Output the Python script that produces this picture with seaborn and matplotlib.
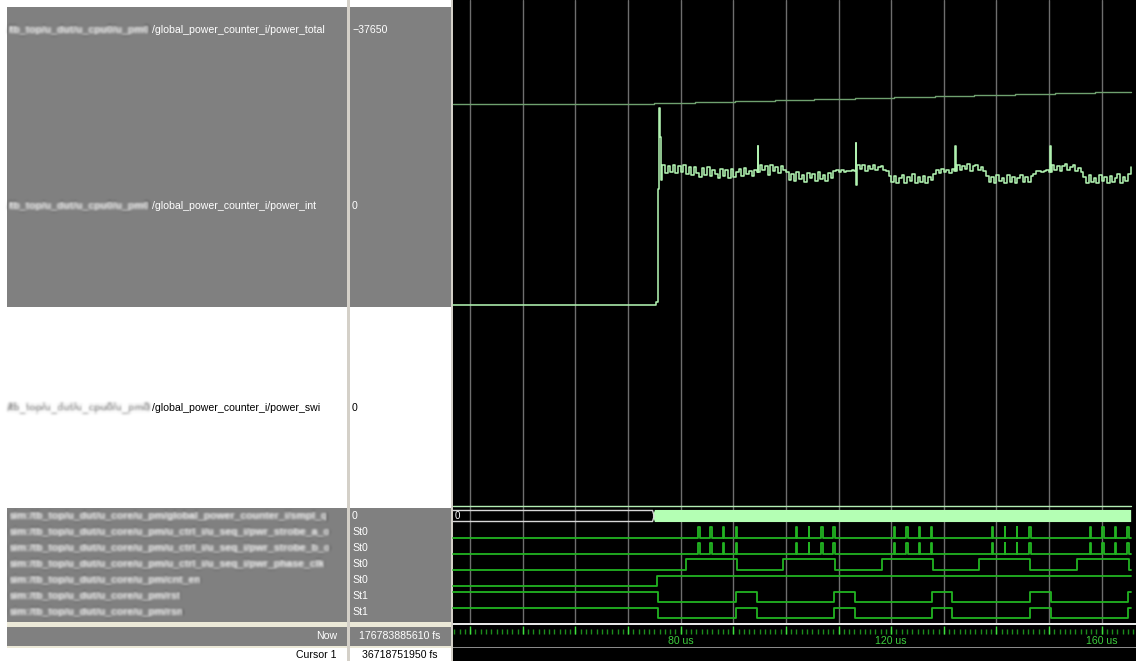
import numpy as np
import pandas as pd
import matplotlib
matplotlib.use("Agg")
import matplotlib.pyplot as plt
from matplotlib.patches import Rectangle
import seaborn as sns

sns.set_style("white")
plt.rcParams["font.family"] = ["Liberation Sans", "DejaVu Sans"]

# ---------------------------------------------------------------- data (time in us)
cursor_fs = "36718751950 fs"
now_fs = "176783885610 fs"
t_view = (36.73, 166.52)          # visible time window of the wave pane
t_end = 165.6                      # last simulated sample drawn

tick_labels = ["80 us", "120 us", "160 us"]
tick_label_times = [80, 120, 160]

# power_total: accumulated power, stepwise
total_t = [36.73, 74.98, 82.72, 90.32, 97.92, 105.33, 113.12, 120.53, 128.32,
           135.73, 143.52, 151.12, 158.72]
total_v = [-37650, -36640, -35610, -34590, -33560, -32540, -31510, -30490,
           -29460, -28440, -27410, -26390, -25360]

# power_int: start-up transient, then sampled every 0.5 us from 76.5 us
int_start_t = [36.73, 75.35, 75.6, 75.8, 76.0, 76.25]
int_start_v = [0, 30, 1155, 1965, 1675, 1245]
int_grid_t0 = 76.5
int_grid_dt = 0.5
int_grid_v = [
    1395, 1318, 1390, 1322, 1400, 1312, 1385, 1330, 1398, 1310, 1372,
    1292, 1380, 1320, 1280, 1362, 1298, 1378, 1285, 1350, 1302,
    1265, 1358, 1282, 1345, 1268, 1352, 1275, 1330,
    1358, 1285, 1370, 1302, 1340, 1290, 1345, 1330,
    1398, 1345, 1385, 1300, 1392, 1335, 1375, 1312, 1390, 1350, 1325,
    1250, 1305, 1232, 1322, 1258, 1300, 1230, 1318, 1262, 1308, 1240, 1322, 1255, 1298, 1236, 1312, 1265, 1335,
    1342, 1330, 1350, 1328, 1340, 1332, 1345, 1335,
    1400, 1352, 1392, 1340, 1385, 1360, 1398, 1345, 1380, 1390, 1350, 1338,
    1290, 1225, 1282, 1212, 1270, 1298, 1220, 1278, 1238, 1302, 1215, 1272, 1230, 1290, 1218, 1276, 1245, 1305,
    1350, 1315, 1358, 1325, 1345, 1312, 1352, 1335,
    1398, 1345, 1388, 1355, 1402, 1340, 1382, 1392, 1348, 1378, 1338,
    1285, 1222, 1278, 1215, 1298, 1232, 1270, 1218, 1292, 1228, 1280, 1212, 1265, 1300, 1222, 1272, 1230, 1288, 1305,
    1332, 1340, 1325, 1338, 1342, 1330,
    1398, 1350, 1390, 1338, 1382, 1402, 1345, 1378, 1395, 1340, 1370, 1328,
    1275, 1220, 1292, 1228, 1270, 1215, 1298, 1235, 1276, 1212, 1288, 1226, 1262, 1302, 1218, 1280, 1238, 1305,
    1380,
]
# short glitches on power_int (time, value, duration)
glitch_t = [94.6, 113.25, 113.37, 132.1, 150.1]
glitch_v = [1585, 1615, 1195, 1585, 1585]
glitch_w = [0.15, 0.12, 0.12, 0.15, 0.35]

swi_v = 0

# bus: constant 0 until it starts toggling
bus_change_t = 74.95

# pulse bursts on the two strobe lines
pulse_t = [83.34, 85.62, 88.04, 90.45,
           101.97, 104.32, 106.66, 108.94,
           120.59, 122.87, 125.23, 127.62,
           139.10, 141.57, 143.85, 146.19,
           157.78, 160.11, 162.47, 164.81]
pulse_w = [0.3, 0.3, 0.12, 0.3,
           0.12, 0.12, 0.3, 0.3,
           0.12, 0.3, 0.3, 0.12,
           0.3, 0.12, 0.12, 0.3,
           0.12, 0.3, 0.3, 0.3]

clk_edges = [81.0, 90.64, 99.5, 109.26, 118.2, 127.89, 136.74, 146.38, 155.31, 165.13]
en_rise_t = 75.44
rst_edges = [75.74, 90.45, 94.56, 109.07, 113.12, 127.75, 131.61, 146.38, 150.37, 165.0]

value_labels = ["0", "St0", "St0", "St0", "St0", "St1", "St1"]

# ---------------------------------------------------------------- figure
W, H = 1136, 661
fig = plt.figure(figsize=(W / 100, H / 100), dpi=100)
fig.patch.set_facecolor("white")

bg = fig.add_axes([0, 0, 1, 1])
bg.set_xlim(0, W)
bg.set_ylim(H, 0)
bg.axis("off")

GRAY = "#808080"
DIV = "#d4d0c8"
PALE = "#ece9d8"


def rect(x0, y0, x1, y1, color, z=0):
    bg.add_patch(Rectangle((x0, y0), x1 - x0, y1 - y0, facecolor=color,
                           edgecolor="none", zorder=z))


# panes
rect(7, 7, 346.5, 307, GRAY)
rect(350, 7, 450.5, 307, GRAY)
rect(7, 508, 346.5, 622, GRAY)
rect(350, 508, 450.5, 622, GRAY)
rect(7, 622, 450.5, 626.5, PALE)
rect(7, 626.5, 346.5, 645.5, GRAY)
rect(350, 626.5, 450.5, 645.5, GRAY)
rect(7, 645.5, 450.5, 647.5, PALE)
rect(346.5, 0, 349.5, H, DIV, 2)
rect(450.5, 0, 453, H, DIV, 2)
rect(453, 0, W, H, "black", 1)
rect(453, 622.5, W, 625, "#e6e6e6", 3)
rect(453, 646.5, W, 647.5, "#8a8a8a", 3)


def soft_focus(sigma):
    """agg filter: gaussian blur of the rendered artist"""
    def _f(img, dpi):
        pad = int(3 * sigma) + 2
        a = np.pad(img, ((pad, pad), (pad, pad), (0, 0)))
        x = np.arange(-pad, pad + 1)
        k = np.exp(-0.5 * (x / sigma) ** 2)
        k /= k.sum()
        a = np.apply_along_axis(lambda m: np.convolve(m, k, mode="same"), 0, a)
        a = np.apply_along_axis(lambda m: np.convolve(m, k, mode="same"), 1, a)
        return a, -pad, -pad
    return _f


FS = 7.6


def label(x, y, s, color="white", ha="left", blur=None, **kw):
    t = bg.text(x, y, s, color=color, ha=ha, va="center", fontsize=FS, zorder=5, **kw)
    if blur:
        t.set_agg_filter(soft_focus(blur))
    return t


# signal names (hierarchy prefix shown softened)
prefix = "/tb_top/u_dut/u_cpu0/u_pm0"
label(150, 30, prefix, ha="right", blur=1.4, color="white", fontweight="bold")
label(152, 30, "/global_power_counter_i/power_total")
label(150, 206, prefix, ha="right", blur=1.4, color="white", fontweight="bold")
label(152, 206, "/global_power_counter_i/power_int")
label(150, 408, prefix, ha="right", blur=1.4, color="#707070", fontweight="bold")
label(152, 408, "/global_power_counter_i/power_swi", color="black")

dig_names = [
    "sim:/tb_top/u_dut/u_core/u_pm/global_power_counter_i/smpl_q",
    "sim:/tb_top/u_dut/u_core/u_pm/u_ctrl_i/u_seq_i/pwr_strobe_a_o",
    "sim:/tb_top/u_dut/u_core/u_pm/u_ctrl_i/u_seq_i/pwr_strobe_b_o",
    "sim:/tb_top/u_dut/u_core/u_pm/u_ctrl_i/u_seq_i/pwr_phase_clk",
    "sim:/tb_top/u_dut/u_core/u_pm/cnt_en",
    "sim:/tb_top/u_dut/u_core/u_pm/rst",
    "sim:/tb_top/u_dut/u_core/u_pm/rsn",
]
dig_y = [516, 532, 548, 564, 580, 596, 612]
for name, y, v in zip(dig_names, dig_y, value_labels):
    label(9, y, name, blur=1.4, color="white", fontweight="bold")
    label(352, y, v)

label(352, 30, "\u221237650")
label(352, 206, "0")
label(352, 408, "0", color="black")
label(337, 636, "Now", ha="right")
label(337, 655, "Cursor 1", ha="right", color="black")
label(400, 636, now_fs, ha="center")
label(400, 655, cursor_fs, ha="center", color="black")


# ---------------------------------------------------------------- wave pane
def row_axes(y_top, y_bot, ylim):
    ax = fig.add_axes([453 / W, 1 - y_bot / H, (W - 453) / W, (y_bot - y_top) / H])
    ax.set_xlim(*t_view)
    ax.set_ylim(*ylim)
    ax.set_facecolor("none")
    ax.axis("off")
    return ax


def wave(ax, t, v, color, lw=1.0, z=3):
    df = pd.DataFrame({"t": t, "v": v})
    sns.lineplot(data=df, x="t", y="v", ax=ax, color=color, lw=lw, estimator=None,
                 sort=False, drawstyle="steps-post", legend=False, zorder=z)
    for ln in ax.lines:
        ln.set_clip_on(False)


# grid
grid_ax = row_axes(0, 622.5, (0, 1))
for g in range(40, 170, 10):
    grid_ax.axvline(g, color="#6e6e6e", lw=1.0, zorder=1)

# analog signals
ax_total = row_axes(0, 105, (-38650, 66350))
wave(ax_total, total_t + [t_end], total_v + [total_v[-1]], "#6fa06f")

grid_t = int_grid_t0 + int_grid_dt * np.arange(len(int_grid_v))
base_t = np.concatenate([int_start_t, grid_t])
base_v = np.concatenate([int_start_v, int_grid_v])
extra_t, extra_v = [], []
for gt, gv, gw in zip(glitch_t, glitch_v, glitch_w):
    idx = np.searchsorted(base_t, gt + gw, side="right") - 1
    extra_t += [gt, gt + gw]
    extra_v += [gv, base_v[idx]]
pi = pd.DataFrame({"t": np.concatenate([base_t, extra_t, [t_end]]),
                   "v": np.concatenate([base_v, extra_v, [base_v[-1]]])})
pi = pi.sort_values("t", kind="stable")
ax_int = row_axes(105, 306, (-15, 1995))
wave(ax_int, pi["t"].to_numpy(), pi["v"].to_numpy(), "#b0f2b0", lw=1.15)

ax_swi = row_axes(306, 506, (0, 2000))
wave(ax_swi, [t_view[0], t_end], [swi_v, swi_v], "#b4eeb4")

# bus
ax_bus = row_axes(510.5, 521.5, (0, 1))
ax_bus.plot([t_view[0], bus_change_t - 0.3, bus_change_t], [1, 1, 0.5], color="#d8d8d8", lw=1, clip_on=False)
ax_bus.plot([t_view[0], bus_change_t - 0.3, bus_change_t], [0, 0, 0.5], color="#d8d8d8", lw=1, clip_on=False)
ax_bus.fill([bus_change_t - 0.25, bus_change_t + 0.15, t_end, t_end, bus_change_t + 0.15],
            [0.5, 1.05, 1.05, -0.05, -0.05], color="#b4ffb4", lw=0, clip_on=False)
ax_bus.text(t_view[0] + 0.35, 0.5, "0", color="white", fontsize=7, va="center", ha="left")

DIG = "#22b422"


def pulse_train(starts, widths):
    tt, vv = [t_view[0]], [0]
    for s, w in zip(starts, widths):
        tt += [s, s + w]
        vv += [1, 0]
    return tt + [t_end], vv + [0]


def toggles(edges, first):
    tt, vv = [t_view[0]], [first]
    lvl = first
    for e in edges:
        lvl = 1 - lvl
        tt.append(e)
        vv.append(lvl)
    return tt + [t_end], vv + [lvl]


pt, pv = pulse_train(pulse_t, pulse_w)
wave(row_axes(527.3, 538, (0, 1)), pt, pv, DIG, lw=1.3)
wave(row_axes(543.3, 553.5, (0, 1)), pt, pv, DIG, lw=1.3)
ct, cv = toggles(clk_edges, 0)
wave(row_axes(559.3, 570, (0, 1)), ct, cv, DIG, lw=1.3)
et, ev = toggles([en_rise_t], 0)
wave(row_axes(576, 586, (0, 1)), et, ev, DIG, lw=1.3)
rt, rv = toggles(rst_edges, 1)
wave(row_axes(591.7, 601.7, (0, 1)), rt, rv, DIG, lw=1.3)
wave(row_axes(607.7, 618.3, (0, 1)), rt, rv, DIG, lw=1.3)

# time ruler
ruler = row_axes(625, 647, (22, 0))
minor = np.arange(37, 167, 1)
ruler.vlines(minor, 4, 9, color="#1c8c1c", lw=1)
ruler.vlines(np.arange(40, 170, 10), 1, 9, color="#3fe03f", lw=1)
for tt, s in zip(tick_label_times, tick_labels):
    ruler.text(tt, 16, s, color="#3ccc3c", fontsize=FS, ha="center", va="center")

fig.savefig("out.png", dpi=100, facecolor="white")
